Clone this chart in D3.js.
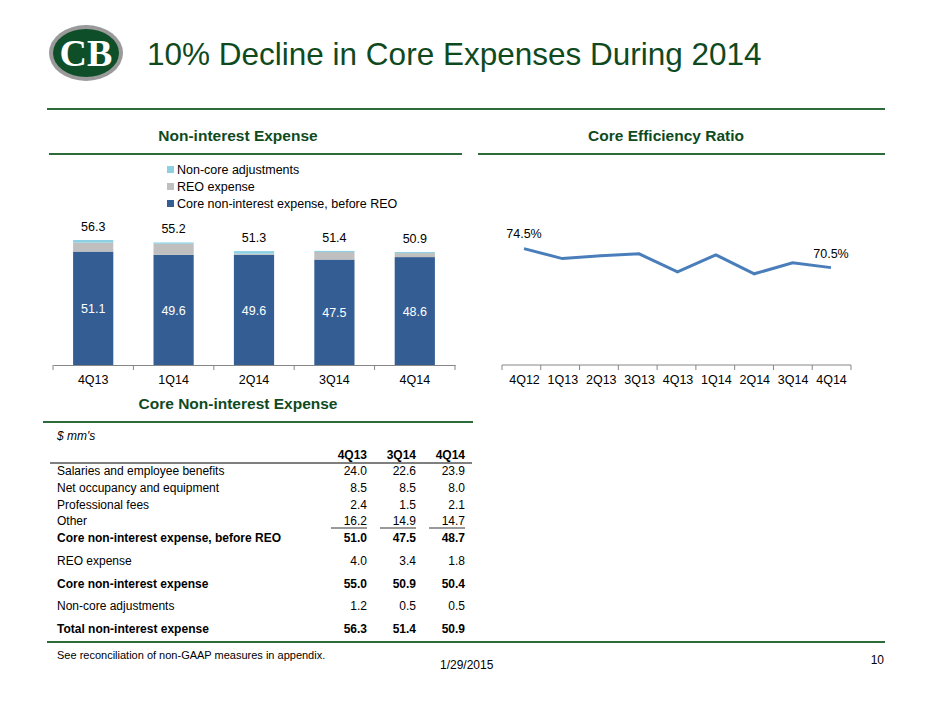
<!DOCTYPE html>
<html><head><meta charset="utf-8">
<script src="https://cdn.jsdelivr.net/npm/d3@7"></script>
<style>body{margin:0;background:#fff;font-family:"Liberation Sans",Arial,sans-serif}</style>
</head><body><div id="chart"></div>
<script>
const barQuarters = ["4Q13", "1Q14", "2Q14", "3Q14", "4Q14"];
const coreBeforeReo = [51.1, 49.6, 49.6, 47.5, 48.6];
const reoExpense = [4.0, 5.0, 0.5, 3.4, 1.8];
const nonCoreAdj = [1.2, 0.6, 1.2, 0.5, 0.5];
const barTotals = [56.3, 55.2, 51.3, 51.4, 50.9];

const ratioQuarters = ["4Q12", "1Q13", "2Q13", "3Q13", "4Q13", "1Q14", "2Q14", "3Q14", "4Q14"];
const ratioValues = [74.5, 72.4, 73.0, 73.4, 69.6, 73.2, 69.2, 71.5, 70.5];

const tableCols = ["4Q13", "3Q14", "4Q14"];
const tableRows = [
  ["Salaries and employee benefits", ["24.0", "22.6", "23.9"], false],
  ["Net occupancy and equipment", ["8.5", "8.5", "8.0"], false],
  ["Professional fees", ["2.4", "1.5", "2.1"], false],
  ["Other", ["16.2", "14.9", "14.7"], false],
  ["Core non-interest expense, before REO", ["51.0", "47.5", "48.7"], true],
  ["REO expense", ["4.0", "3.4", "1.8"], false],
  ["Core non-interest expense", ["55.0", "50.9", "50.4"], true],
  ["Non-core adjustments", ["1.2", "0.5", "0.5"], false],
  ["Total non-interest expense", ["56.3", "51.4", "50.9"], true]
];

const green = "#0f4a1f", lineGreen = "#2e6b3a";
const svg = d3.select("#chart").append("svg").attr("width", 940).attr("height", 705);

// header
const logo = svg.append("g").attr("transform", "translate(86,53)");
logo.append("ellipse").attr("rx", 37).attr("ry", 28).attr("fill", "#9a9a9a");
logo.append("ellipse").attr("rx", 33).attr("ry", 24).attr("fill", "#0e4f2a");
logo.append("text").attr("text-anchor", "middle").attr("y", 13).attr("font-family", "Liberation Serif")
  .attr("font-size", 38).attr("fill", "#fff").attr("font-weight", "bold").text("CB");
svg.append("text").attr("x", 147).attr("y", 65).attr("font-size", 31.5).attr("fill", green)
  .text("10% Decline in Core Expenses During 2014");
const hline = (x1, x2, y, w) => svg.append("line").attr("x1", x1).attr("x2", x2).attr("y1", y).attr("y2", y)
  .attr("stroke", lineGreen).attr("stroke-width", w || 2);
hline(47, 885, 109);
const section = (t, cx, y, x1, x2) => {
  svg.append("text").attr("x", cx).attr("y", y).attr("text-anchor", "middle").attr("font-size", 15.5)
    .attr("font-weight", "bold").attr("fill", green).text(t);
  hline(x1, x2, y + 13);
};
section("Non-interest Expense", 238, 141, 49, 462);
section("Core Efficiency Ratio", 666, 141, 478, 885);
section("Core Non-interest Expense", 238, 409, 43, 473);

// bar chart
const x = d3.scaleBand().domain(barQuarters).range([53, 455]).paddingInner(0.5).paddingOuter(0.25);
const y = d3.scaleLinear().domain([0, 56.3]).range([365, 240]);
const colors = ["#345e93", "#bfbfbf", "#8dd0e3"];
const stackData = barQuarters.map((q, i) => ({q, core: coreBeforeReo[i], reo: reoExpense[i], adj: nonCoreAdj[i]}));
const series = d3.stack().keys(["core", "reo", "adj"])(stackData);
series.forEach((s, k) => {
  svg.append("g").selectAll("rect").data(s).join("rect")
    .attr("x", d => x(d.data.q)).attr("width", x.bandwidth())
    .attr("y", d => y(d[1])).attr("height", d => y(d[0]) - y(d[1])).attr("fill", colors[k]);
});
svg.append("g").attr("transform", "translate(0,365)")
  .call(d3.axisBottom(x).tickSizeInner(0).tickSizeOuter(0).tickPadding(10))
  .call(g => g.select(".domain").attr("stroke", "#868686"))
  .call(g => g.selectAll("text").attr("font-size", 12.5).attr("fill", "#000").attr("font-family", "Liberation Sans"));
const xb = d3.scalePoint().domain(d3.range(6)).range([53, 455]);
svg.append("g").selectAll("line").data(d3.range(6)).join("line")
  .attr("x1", d => xb(d)).attr("x2", d => xb(d)).attr("y1", 365).attr("y2", 370).attr("stroke", "#868686");
svg.append("g").selectAll("text").data(stackData).join("text")
  .attr("x", d => x(d.q) + x.bandwidth() / 2).attr("y", d => y(d.core / 2) + 5).attr("text-anchor", "middle")
  .attr("font-size", 12.5).attr("fill", "#fff").text(d => d.core.toFixed(1));
svg.append("g").selectAll("text").data(barTotals).join("text")
  .attr("x", (d, i) => x(barQuarters[i]) + x.bandwidth() / 2).attr("y", d => y(d) - 9).attr("text-anchor", "middle")
  .attr("font-size", 12.5).attr("fill", "#000").text(d => d.toFixed(1));
const legendNames = ["Non-core adjustments", "REO expense", "Core non-interest expense, before REO"];
legendNames.forEach((n, i) => {
  svg.append("rect").attr("x", 167).attr("y", 166 + i * 17).attr("width", 7).attr("height", 7).attr("fill", colors[2 - i]);
  svg.append("text").attr("x", 177).attr("y", 174 + i * 17).attr("font-size", 12.5).text(n);
});

// line chart
const xl = d3.scalePoint().domain(ratioQuarters).range([524, 831]);
const yl = d3.scaleLinear().domain([50, 90]).range([365, 175]);
svg.append("g").attr("transform", "translate(0,365)")
  .call(d3.axisBottom(xl).tickSizeInner(0).tickSizeOuter(0).tickPadding(10))
  .call(g => g.select(".domain").attr("stroke", "#868686").attr("d", "M502,0H851"))
  .call(g => g.selectAll("text").attr("font-size", 12.5).attr("fill", "#000").attr("font-family", "Liberation Sans"));
svg.append("g").selectAll("line").data(d3.range(10)).join("line")
  .attr("x1", d => 502 + d * 349 / 9).attr("x2", d => 502 + d * 349 / 9)
  .attr("y1", 365).attr("y2", 370).attr("stroke", "#868686");
svg.append("path").datum(ratioValues)
  .attr("d", d3.line().x((d, i) => xl(ratioQuarters[i])).y(d => yl(d)))
  .attr("fill", "none").attr("stroke", "#4a7ebb").attr("stroke-width", 3);
[0, ratioValues.length - 1].forEach(i => {
  svg.append("text").attr("x", xl(ratioQuarters[i])).attr("y", yl(ratioValues[i]) - (i ? 10 : 11))
    .attr("text-anchor", "middle").attr("font-size", 12.5).text(ratioValues[i].toFixed(1) + "%");
});

// table
svg.append("text").attr("x", 57).attr("y", 440).attr("font-size", 12).attr("font-style", "italic").text("$ mm's");
const colX = [367, 416, 465];
tableCols.forEach((c, j) => svg.append("text").attr("x", colX[j]).attr("y", 459).attr("text-anchor", "end")
  .attr("font-size", 12).attr("font-weight", "bold").text(c));
svg.append("line").attr("x1", 50).attr("x2", 472).attr("y1", 463).attr("y2", 463).attr("stroke", "#000");
const rowY = [475, 492, 509, 525, 542, 565, 588, 610, 633];
tableRows.forEach((r, i) => {
  const w = r[2] ? "bold" : "normal";
  svg.append("text").attr("x", 57).attr("y", rowY[i]).attr("font-size", 12).attr("font-weight", w).text(r[0]);
  r[1].forEach((v, j) => svg.append("text").attr("x", colX[j]).attr("y", rowY[i]).attr("text-anchor", "end")
    .attr("font-size", 12).attr("font-weight", w).text(v));
  if (r[0] === "Other") colX.forEach(cx => svg.append("line").attr("x1", cx - 36).attr("x2", cx).attr("y1", rowY[i] + 3)
    .attr("y2", rowY[i] + 3).attr("stroke", "#000").attr("stroke-width", 0.8));
});
hline(47, 885, 642);

// footer
svg.append("text").attr("x", 57).attr("y", 659).attr("font-size", 11).text("See reconciliation of non-GAAP measures in appendix.");
svg.append("text").attr("x", 440).attr("y", 669).attr("font-size", 12).text("1/29/2015");
svg.append("text").attr("x", 884).attr("y", 664).attr("text-anchor", "end").attr("font-size", 12).text("10");
</script></body></html>
